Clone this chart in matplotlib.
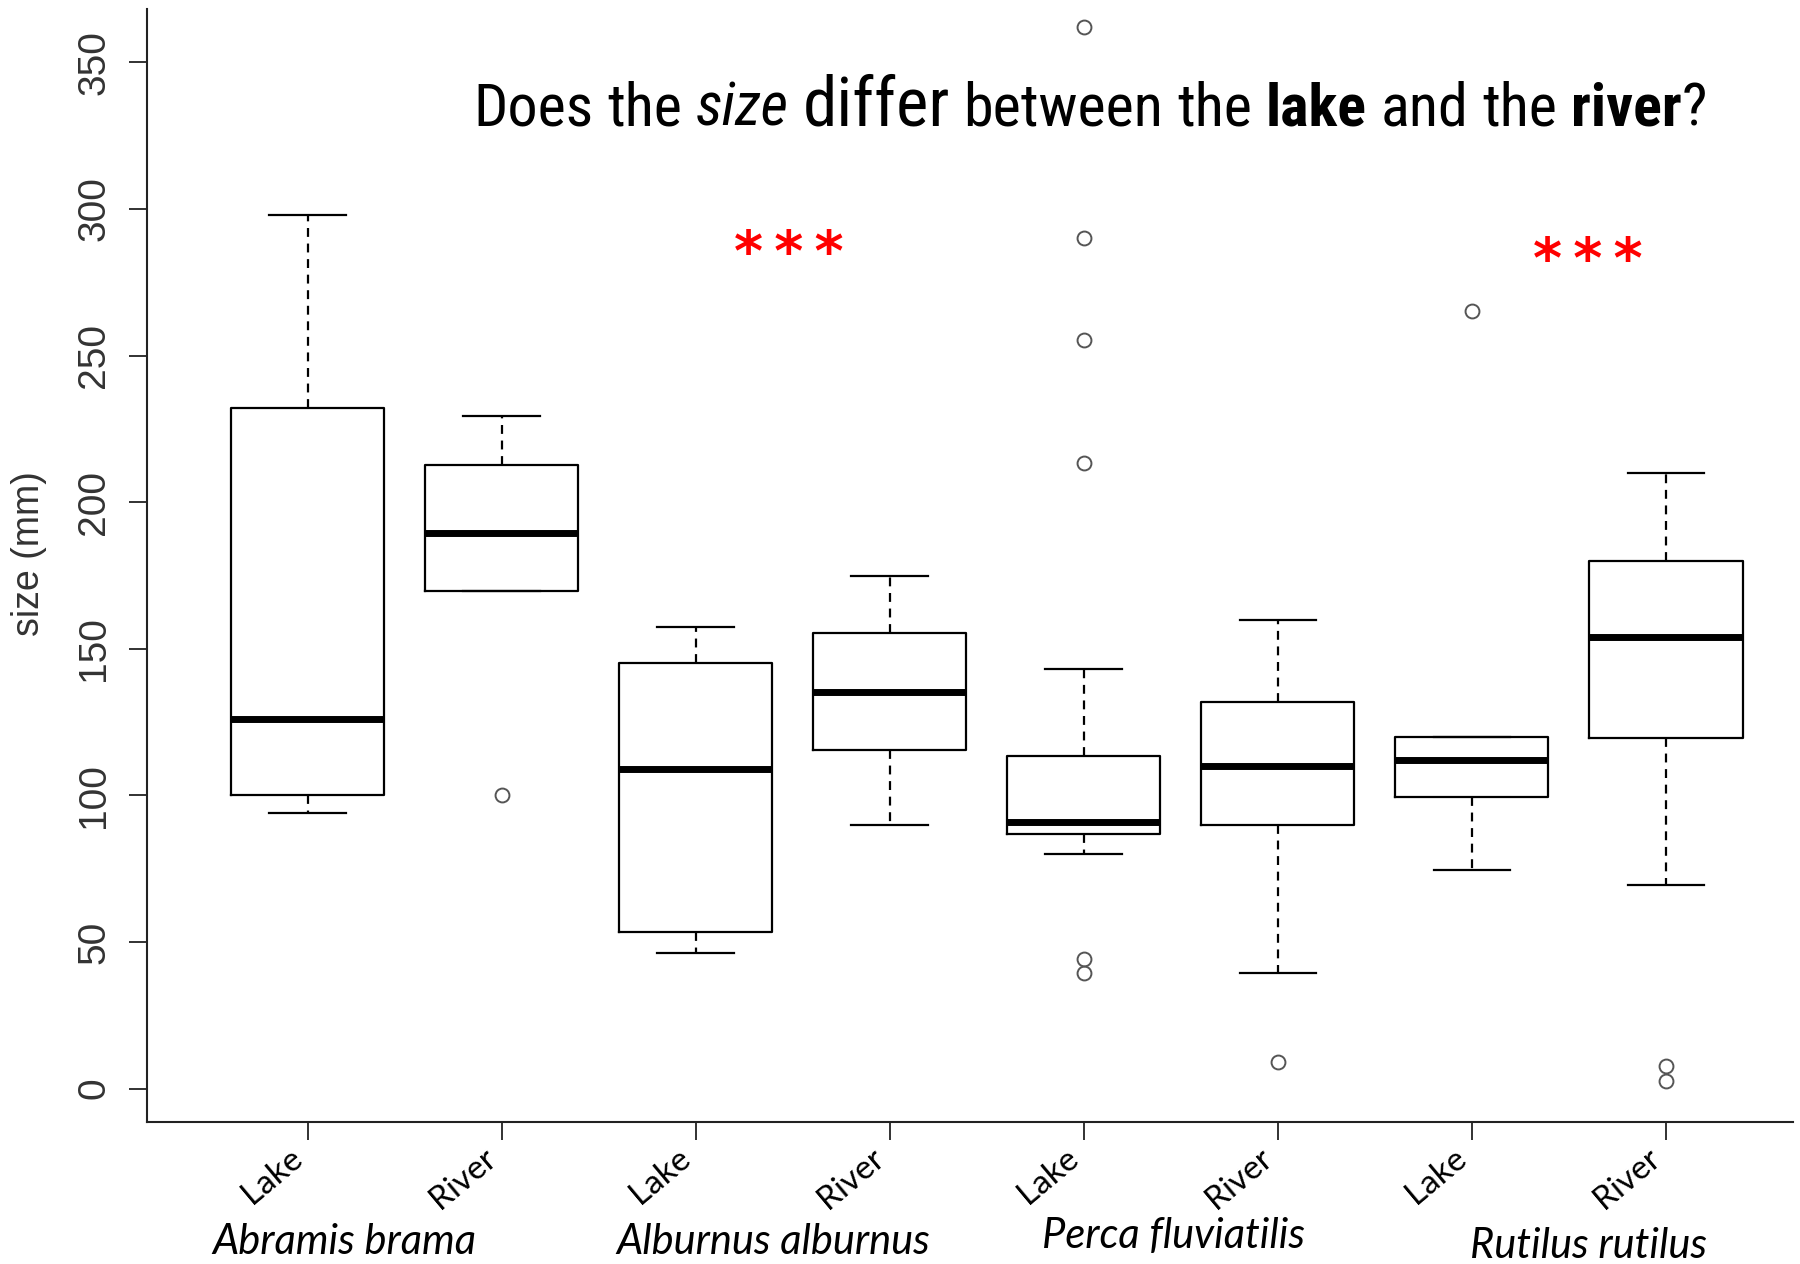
import matplotlib
matplotlib.use("Agg")
import matplotlib.pyplot as plt
import matplotlib.transforms as mtransforms
from matplotlib import font_manager as fm

# box statistics (size in mm)
species = ["Abramis brama", "Alburnus alburnus", "Perca fluviatilis", "Rutilus rutilus"]
habitats = ["Lake", "River", "Lake", "River", "Lake", "River", "Lake", "River"]
q1 = [100, 169.6, 53.3, 115.5, 87, 90, 99.5, 119.7]
medians = [126, 189.6, 108.9, 135.1, 90.9, 110, 112.2, 154]
q3 = [232, 212.7, 145.3, 155.5, 113.6, 132, 119.9, 179.8]
whis_lo = [94, 169.6, 46.2, 90, 79.9, 39.6, 74.5, 69.5]
whis_hi = [298, 229.5, 157.5, 174.7, 143, 159.8, 119.9, 210]
outliers = [[], [100.3], [], [], [362, 290, 255.4, 213.5, 44.3, 39.6], [9], [265.2], [7.8, 2.7]]

# significance stars (x position, y value)
star_x = [3.48, 7.6]
star_y = [288.4, 286]

W, H = 1800, 1264
fig = plt.figure(figsize=(W / 100, H / 100), dpi=100)
ax = fig.add_axes([0.0817, 0.1123, 0.9146, 0.8806])

stats = []
for i in range(len(habitats)):
    stats.append({"q1": q1[i], "med": medians[i], "q3": q3[i],
                  "whislo": whis_lo[i], "whishi": whis_hi[i],
                  "fliers": outliers[i]})

positions = list(range(1, len(habitats) + 1))
ax.bxp(stats, positions=positions, widths=0.79, showfliers=True,
       boxprops=dict(color="black", linewidth=1.6),
       whiskerprops=dict(color="black", linewidth=1.6, linestyle=(0, (4, 3))),
       capprops=dict(color="black", linewidth=1.6),
       medianprops=dict(color="black", linewidth=5, solid_capstyle="butt"),
       flierprops=dict(marker="o", markerfacecolor="none", markeredgecolor="#555555",
                       markersize=10, markeredgewidth=1.4, linestyle="none"))

ax.set_xlim(0.172, 8.657)
ax.set_ylim(-11.4, 368.2)

for s in ["top", "right"]:
    ax.spines[s].set_visible(False)
for s in ["left", "bottom"]:
    ax.spines[s].set_linewidth(1.5)
    ax.spines[s].set_color("#222222")

# y axis
ax.set_yticks([0, 50, 100, 150, 200, 250, 300, 350])
ax.set_yticklabels(["0", "50", "100", "150", "200", "250", "300", "350"],
                   rotation=90, va="center", fontsize=28,
                   family="Liberation Sans", color="#333333")
ax.tick_params(axis="y", length=13, width=1.3, pad=12, color="#222222")
fig.text(29 / W, 1 - 554 / H, "size (mm)", rotation=90, ha="center", va="center",
         fontsize=27, family="Liberation Sans", color="#333333")

# x axis
ax.set_xticks(positions)
ax.set_xticklabels(habitats, rotation=40, ha="right", va="top",
                   fontsize=24, family="Lato")
ax.tick_params(axis="x", length=13, width=1.3, pad=2, color="#222222")

# species labels under the pairs
trans = mtransforms.blended_transform_factory(ax.transData, fig.transFigure)
group_x = [1.19, 3.40, 5.46, 7.60]
group_y = [1242, 1242, 1236, 1246]
for name, gx, gy in zip(species, group_x, group_y):
    ax.text(gx, 1 - gy / H, name, transform=trans, ha="center", va="center",
            fontsize=30, style="italic", family="Lato")

# red stars (nudged down, the glyph sits high in its line box)
star_trans = mtransforms.offset_copy(ax.transData, fig=fig, x=0, y=-12, units="dots")
for sx, sy in zip(star_x, star_y):
    ax.text(sx, sy, "*\u2009*\u2009*", color="red", ha="center", va="center",
            fontsize=40, fontweight="bold", family="DejaVu Sans", transform=star_trans)

# title with mixed styles, placed word by word
names = {f.name for f in fm.fontManager.ttflist}
title_font = "DejaVu Sans"
for cand in ["Liberation Sans Narrow", "Roboto Condensed", "Open Sans Condensed"]:
    if cand in names:
        title_font = cand
        break

pieces = [("Does", "normal", "normal", 1.0), ("the", "normal", "normal", 1.0),
          ("size", "italic", "normal", 1.0), ("differ", "normal", "normal", 1.15),
          ("between", "normal", "normal", 1.0), ("the", "normal", "normal", 1.0),
          ("lake", "normal", "bold", 1.0), ("and", "normal", "normal", 1.0),
          ("the", "normal", "normal", 1.0), ("river", "normal", "bold", 1.0)]

renderer = fig.canvas.get_renderer()


def place_title(size, x0, y0):
    objs = []
    x = x0
    sp = fig.text(0, 0, "a a", fontsize=size, family=title_font)
    sp2 = fig.text(0, 0, "aa", fontsize=size, family=title_font)
    space = sp.get_window_extent(renderer).width - sp2.get_window_extent(renderer).width
    sp.remove()
    sp2.remove()
    for k, (word, st, wt, scale) in enumerate(pieces):
        t = fig.text(x / W, y0, word, fontsize=size * scale, style=st, fontweight=wt,
                     family=title_font, ha="left", va="baseline", stretch="condensed")
        objs.append(t)
        x += t.get_window_extent(renderer).width
        if k < len(pieces) - 1:
            x += space
    q = fig.text(x / W, y0, "?", fontsize=size, family=title_font,
                 ha="left", va="baseline", stretch="condensed")
    objs.append(q)
    x += q.get_window_extent(renderer).width
    return objs, x - x0


size = 46
objs, width = place_title(size, 473, 1 - 126 / H)
target = 1234
if abs(width - target) > 10:
    for o in objs:
        o.remove()
    size = size * target / width
    objs, width = place_title(size, 473, 1 - 126 / H)

fig.savefig("out.png", dpi=100, facecolor="white")
